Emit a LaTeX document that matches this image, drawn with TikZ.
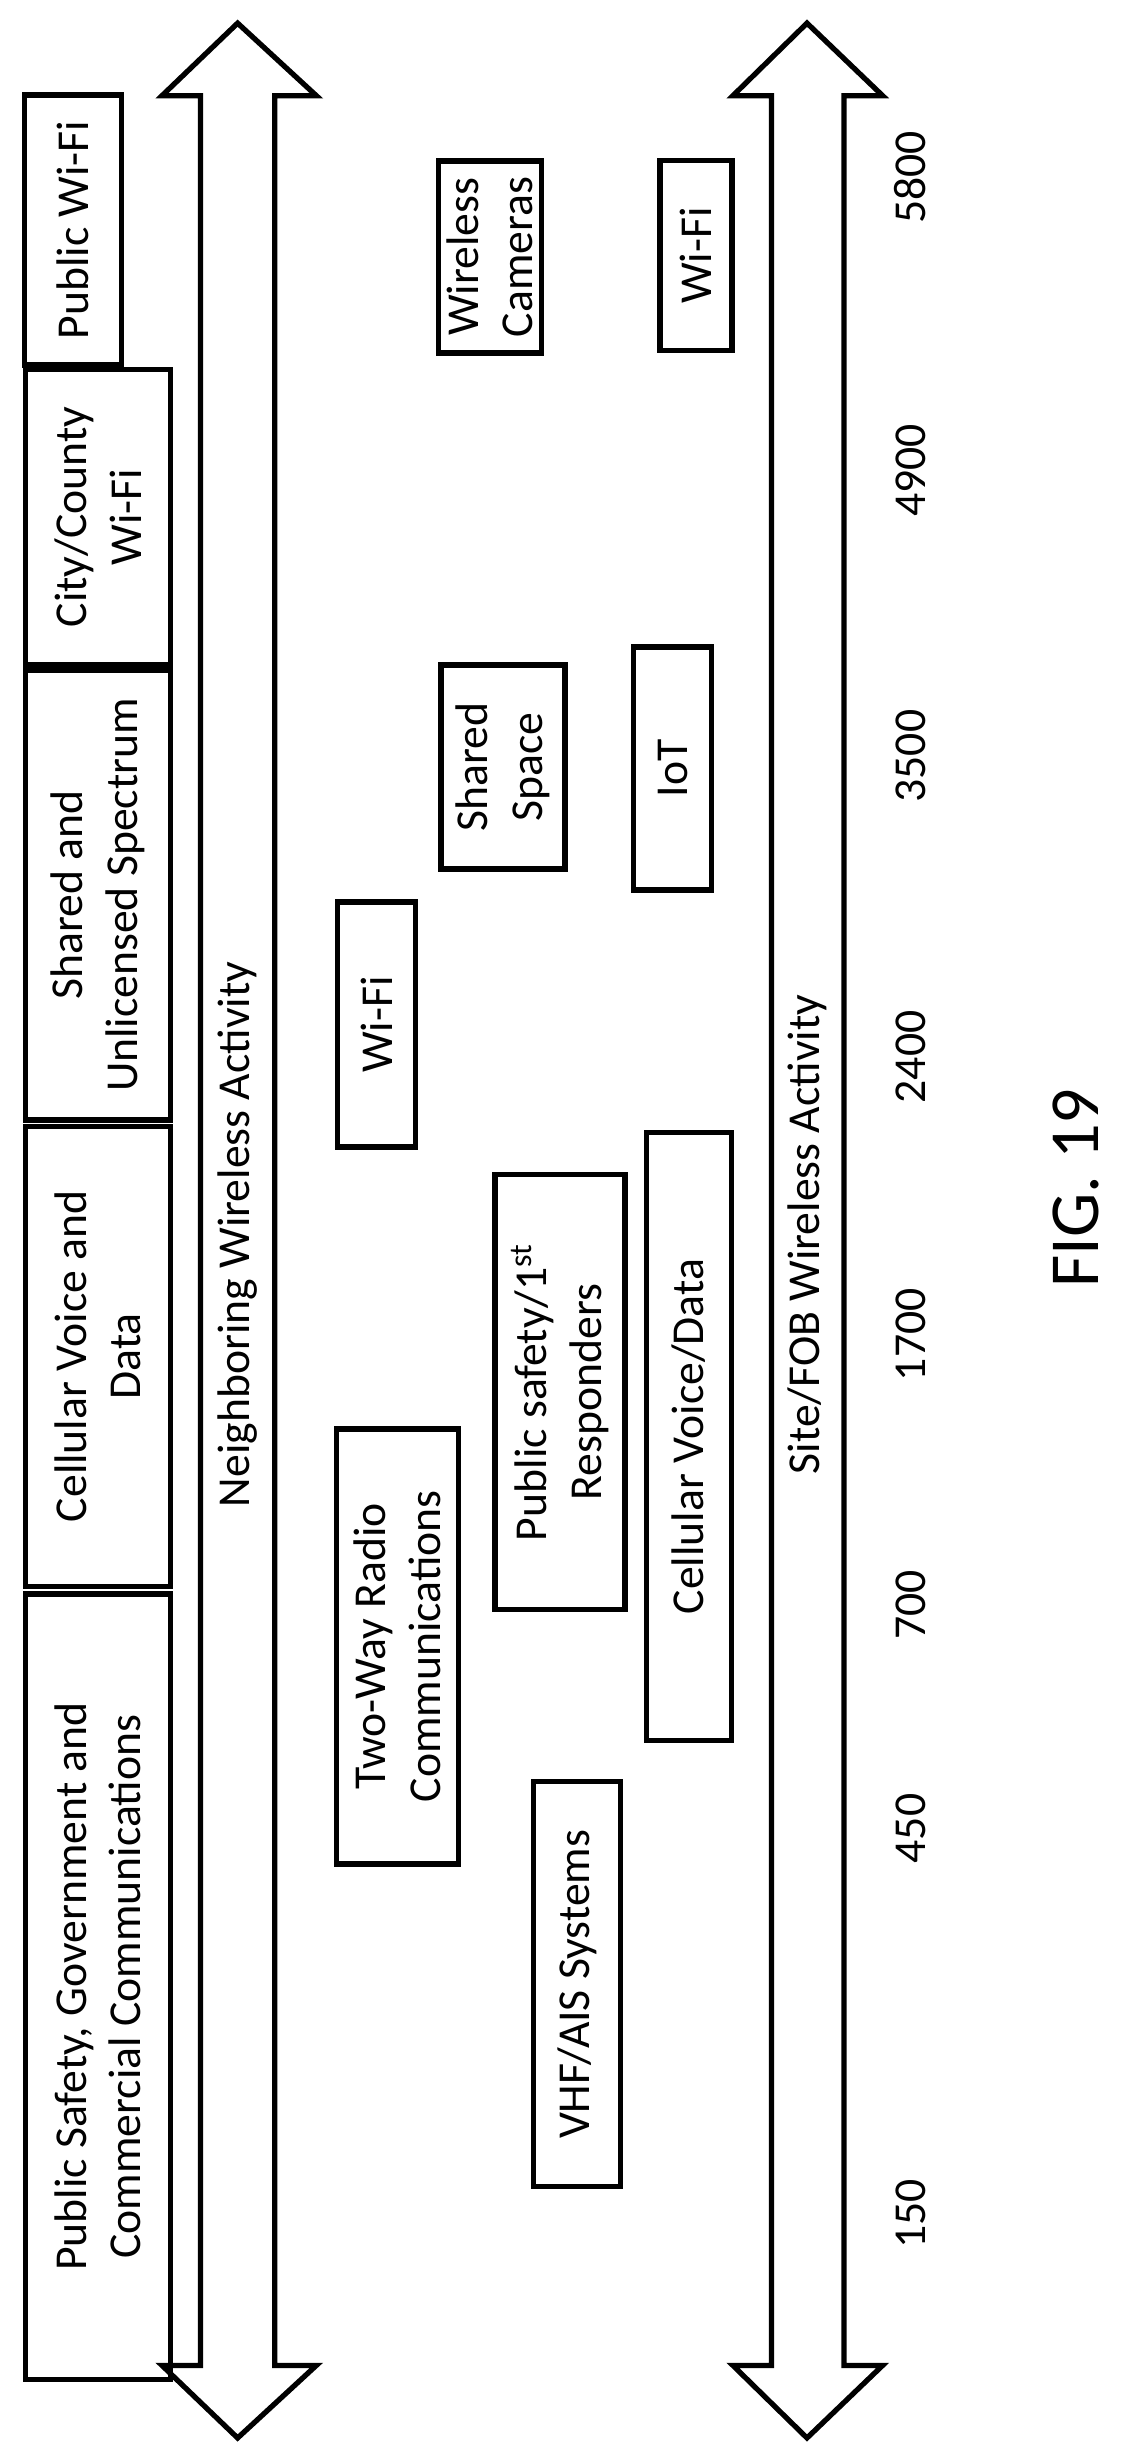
\documentclass[tikz,border=0pt]{standalone}
\usepackage{fontspec}
\setmainfont{Carlito}
\begin{document}
\begin{tikzpicture}[x=0.1543mm,y=-0.1543mm,
  bx/.style={draw,line width=1.5pt,rotate=90,align=center,inner sep=2pt,outer sep=0pt,font=\fontsize{13}{15.5}\selectfont},
  lb/.style={rotate=90,font=\fontsize{13}{15.5}\selectfont},
  ar/.style={draw,line width=1.5pt,fill=white}]
\useasboundingbox (0,0) rectangle (740,1593);
% left arrow
\draw[ar] (154,15) -- (205,62) -- (178,62) -- (178,1533) -- (205,1533) -- (154,1580) -- (105,1533) -- (130,1533) -- (130,62) -- (105,62) -- cycle;
\node[lb] (nwa) at (154,800) {Neighboring Wireless Activity};
% right arrow
\draw[ar] (523,15) -- (572,62) -- (547,62) -- (547,1533) -- (572,1533) -- (523,1580) -- (475,1533) -- (500,1533) -- (500,62) -- (475,62) -- cycle;
\node[lb] (swa) at (523,800) {Site/FOB Wireless Activity};
% left column boxes
\node[bx,minimum width=78.5mm,minimum height=14.5mm] (b1) at (63.5,1287.5) {Public Safety, Government and\\Commercial Communications};
\node[bx,minimum width=46mm,minimum height=14.5mm] (b2) at (63.5,879) {Cellular Voice and\\Data};
\node[bx,minimum width=45mm,minimum height=14.5mm] (b3) at (63.5,580) {Shared and\\Unlicensed Spectrum};
\node[bx,minimum width=29.5mm,minimum height=14.5mm] (b4) at (63.5,335) {City/County\\Wi-Fi};
\node[bx,minimum width=27mm,minimum height=9.7mm] (b5) at (47.5,149) {Public Wi-Fi};
% middle boxes
\node[bx,minimum width=40.5mm,minimum height=8.7mm] (m1) at (374,1286) {VHF/AIS Systems};
\node[bx,minimum width=43.5mm,minimum height=12.2mm] (m2) at (257.5,1067) {Two-Way Radio\\Communications};
\node[bx,minimum width=43.5mm,minimum height=13mm] (m3) at (363,902) {Public safety/1\textsuperscript{st}\\Responders};
\node[bx,minimum width=60.8mm,minimum height=8.5mm] (m4) at (446.5,931) {Cellular Voice/Data};
\node[bx,minimum width=24.5mm,minimum height=7.8mm] (m5) at (244,664) {Wi-Fi};
\node[bx,minimum width=20.4mm,minimum height=12.4mm] (m6) at (326,497) {Shared\\Space};
\node[bx,minimum width=24.3mm,minimum height=7.8mm] (m7) at (436,498) {IoT};
\node[bx,minimum width=19.2mm,minimum height=10.3mm] (m8) at (317.5,166.5) {Wireless\\Cameras};
\node[bx,minimum width=19mm,minimum height=7.2mm] (m9) at (451,165.5) {Wi-Fi};
% frequencies
\foreach \n/\y in {f1/1435,f2/1185,f3/1040,f4/865,f5/685,f6/490,f7/305,f8/115}{\coordinate (\n) at (590,\y);}
\node[lb] at (f1) {150};
\node[lb] at (f2) {450};
\node[lb] at (f3) {700};
\node[lb] at (f4) {1700};
\node[lb] at (f5) {2400};
\node[lb] at (f6) {3500};
\node[lb] at (f7) {4900};
\node[lb] at (f8) {5800};
\node[rotate=90,font=\fontsize{20}{24}\selectfont] (fig) at (697,770) {FIG. 19};
\end{tikzpicture}
\end{document}
